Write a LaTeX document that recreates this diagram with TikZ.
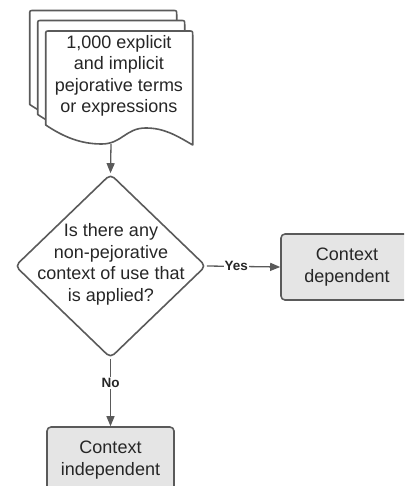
\documentclass[tikz,border=0pt]{standalone}
\usepackage{fontspec}
\setmainfont{Liberation Sans}
\usetikzlibrary{shapes.geometric,arrows.meta}
\definecolor{linegray}{HTML}{5A5A5A}
\definecolor{boxgray}{HTML}{E5E5E5}
\tikzset{
  shapeline/.style={draw=linegray, line width=1.6pt, line join=round},
  conn/.style={draw=linegray, line width=1.3pt, -{Triangle[length=10pt,width=8pt]}},
  lbl/.style={fill=white, inner sep=1pt, text=black!85, font=\fontsize{13.5}{15}\selectfont\bfseries},
  bodytext/.style={align=center, text=black!85, font=\fontsize{18}{21.5}\selectfont},
  resultbox/.style={shapeline, fill=boxgray, rounded corners=4pt, bodytext, inner sep=0pt},
  docpage/.pic={
    \path[shapeline, fill=white]
      (0,94) -- (0,4) .. controls (0,0) .. (4,0) -- (143,0) .. controls (147,0) .. (147,4)
      -- (147,114)
      .. controls (130,104) and (118,97) .. (100,97)
      .. controls (80,97) and (76,113) .. (56,113)
      .. controls (35,113) and (18,106) .. (0,94) -- cycle;
  }
}
\begin{document}
\begin{tikzpicture}[x=1pt,y=-1pt]
\useasboundingbox (0,0) rectangle (404,486);
\clip (0,0) rectangle (404,486);
% stacked document
\pic at (29.7,10.5) {docpage};
\pic at (37.7,20.5) {docpage};
\pic at (45.7,31) {docpage};
\node[bodytext] (docText) at (119,76) {1,000 explicit\\and implicit\\pejorative terms\\or expressions};
\coordinate (docb) at (111,144);
% decision
\node[diamond, shapeline, minimum width=191pt, minimum height=184pt, inner sep=0pt, rounded corners=5pt] (dec) at (110.5,266) {};
\node[bodytext] (decText) at (111,264.5) {Is there any\\non-pejorative\\context of use that\\is applied?};
% results
\node[resultbox, minimum width=132pt, minimum height=66pt] (dep) at (347,267) {Context\\dependent};
\node[resultbox, minimum width=127pt, minimum height=66pt] (indep) at (110.5,460) {Context\\independent};
% connectors
\draw[conn] (docb) -- (dec.north);
\draw[conn] (dec.east) -- node[lbl, pos=0.4] {Yes} (dep.west);
\draw[conn] (dec.south) -- node[lbl, pos=0.36] {No} (indep.north);
\end{tikzpicture}
\end{document}
